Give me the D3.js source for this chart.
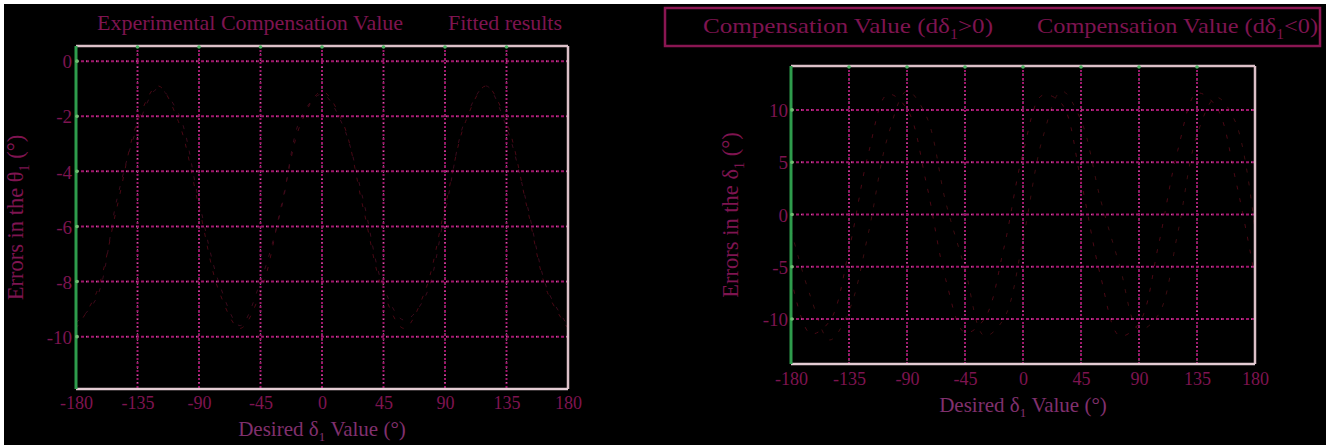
<!DOCTYPE html>
<html>
<head>
<meta charset="utf-8">
<script src="https://cdn.jsdelivr.net/npm/d3@7/dist/d3.min.js"></script>
<style>
  body { margin: 0; background: #fff; }
  svg { display: block; }
</style>
</head>
<body>
<div id="chart"></div>
<script>
// angles sampled along the desired delta_1 axis
var angles = [-180, -165, -150, -135, -120, -105, -90, -75, -60, -45, -30, -15, 0,
              15, 30, 45, 60, 75, 90, 105, 120, 135, 150, 165, 180];
var xTicks = [-180, -135, -90, -45, 0, 45, 90, 135, 180];

// left panel: errors in theta_1
var leftExperimental = [-9.5, -8.6, -5.0, -2.4, -1.0, -1.9, -5.1, -8.1, -9.6, -8.0, -5.4, -2.0, -1.2,
                        -2.3, -5.0, -8.2, -9.4, -8.6, -5.5, -2.1, -0.9, -2.4, -5.2, -8.3, -9.6];
var leftFitted = [-9.7, -8.4, -5.3, -2.2, -0.9, -2.2, -5.3, -8.4, -9.7, -8.4, -5.3, -2.2, -1.1,
                  -2.2, -5.3, -8.4, -9.7, -8.4, -5.3, -2.2, -0.9, -2.2, -5.3, -8.4, -9.7];
var leftYTicks = [0, -2, -4, -6, -8, -10];

// right panel: errors in delta_1
var rightPositive = [-6.0, -11.4, -10.2, -3.4, 5.8, 11.5, 10.1, 3.0, -6.2, -11.3, -10.0, -3.3, 5.9,
                     11.4, 10.6, 3.2, -5.8, -11.6, -10.4, -3.0, 6.1, 11.6, 10.3, 3.3, -6.0];
var rightNegative = [-1.5, -7.8, -12.0, -9.2, -1.8, 7.4, 11.8, 9.4, 1.2, -5.2, -11.6, -10.0, -2.4,
                     7.2, 11.8, 9.0, 1.5, -4.9, -11.0, -9.6, -1.8, 7.6, 11.2, 8.8, -1.5];
var rightYTicks = [10, 5, 0, -5, -10];

var width = 1326, height = 445;
var svg = d3.select("#chart").append("svg")
    .attr("width", width)
    .attr("height", height);

// black picture area, shifted a little like the original scan
svg.append("rect").attr("x", 4).attr("y", 4)
    .attr("width", width - 4).attr("height", height - 4)
    .attr("fill", "#000");

var serif = "'Liberation Serif', 'DejaVu Serif', serif";
var textColor = "#7e1450";
var gridColor = "#a0146c";

function drawPanel(p) {
    var x = d3.scaleLinear().domain([-180, 180]).range([p.left, p.right]);
    var y = d3.scaleLinear().domain(p.yDomain).range([p.bottom, p.top]);
    var g = svg.append("g");

    // faint data curves (barely visible in the original)
    var line = d3.line()
        .x(function (d, i) { return x(angles[i]); })
        .y(function (d) { return y(d); })
        .curve(d3.curveCatmullRom);
    p.series.forEach(function (s) {
        g.append("path").datum(s.values)
            .attr("d", line)
            .attr("fill", "none")
            .attr("stroke", s.color)
            .attr("stroke-width", 1)
            .attr("stroke-dasharray", "4,9");
    });

    // dotted grid
    var gx = g.append("g");
    xTicks.slice(1, -1).forEach(function (t) {
        gx.append("line").attr("x1", x(t)).attr("x2", x(t)).attr("y1", p.top).attr("y2", p.bottom)
            .attr("stroke", gridColor).attr("stroke-width", 2).attr("stroke-dasharray", "2,2");
        gx.append("line").attr("x1", x(t)).attr("x2", x(t)).attr("y1", p.top).attr("y2", p.bottom)
            .attr("stroke", "#d8b0c8").attr("stroke-width", 1.2).attr("stroke-dasharray", "1,6")
            .attr("opacity", 0.6);
    });
    p.yTicks.forEach(function (t) {
        gx.append("line").attr("x1", p.left).attr("x2", p.right).attr("y1", y(t)).attr("y2", y(t))
            .attr("stroke", gridColor).attr("stroke-width", 2).attr("stroke-dasharray", "3,2");
        gx.append("line").attr("x1", p.left).attr("x2", p.right).attr("y1", y(t)).attr("y2", y(t))
            .attr("stroke", "#d8b0c8").attr("stroke-width", 1.2).attr("stroke-dasharray", "1,9")
            .attr("opacity", 0.55);
    });

    // frame: top + right light, left green, bottom light
    g.append("line").attr("x1", p.left).attr("x2", p.right).attr("y1", p.top).attr("y2", p.top)
        .attr("stroke", "#dcc0c8").attr("stroke-width", 2.5);
    g.append("line").attr("x1", p.right).attr("x2", p.right).attr("y1", p.top).attr("y2", p.bottom)
        .attr("stroke", "#dcc0c8").attr("stroke-width", 2.5);
    g.append("line").attr("x1", p.left).attr("x2", p.right).attr("y1", p.bottom).attr("y2", p.bottom)
        .attr("stroke", "#e4ccd4").attr("stroke-width", 2.5);
    g.append("line").attr("x1", p.left).attr("x2", p.left).attr("y1", p.top).attr("y2", p.bottom)
        .attr("stroke", "#2e9c4c").attr("stroke-width", 3);

    // axes for labels
    var xAxis = d3.axisBottom(x).tickValues(xTicks).tickSize(0).tickPadding(0)
        .tickFormat(function (d) { return String(d); });
    var ax = g.append("g").attr("transform", "translate(0," + p.xLabelY + ")").call(xAxis);
    ax.select(".domain").remove();
    ax.selectAll("text").attr("dy", 0).attr("y", 0)
        .attr("fill", textColor).attr("font-family", serif).attr("font-size", 18);

    var yAxis = d3.axisLeft(y).tickValues(p.yTicks).tickSize(0).tickPadding(0)
        .tickFormat(function (d) { return String(d); });
    var ay = g.append("g").attr("transform", "translate(" + p.yLabelX + ",0)").call(yAxis);
    ay.select(".domain").remove();
    ay.selectAll("text").attr("x", 0).attr("dy", "0.35em")
        .attr("fill", textColor).attr("font-family", serif).attr("font-size", 19);

    // small green markers on top edge and left axis at grid positions
    xTicks.slice(1, -1).forEach(function (t) {
        g.append("circle").attr("cx", x(t)).attr("cy", p.top + 1).attr("r", 1.8).attr("fill", "#4cb060");
    });
    p.yTicks.forEach(function (t) {
        g.append("circle").attr("cx", p.left + 1).attr("cy", y(t)).attr("r", 1.8).attr("fill", "#6cc070");
    });

    // axis titles
    var xt = g.append("text").attr("x", (p.left + p.right) / 2).attr("y", p.xTitleY)
        .attr("text-anchor", "middle").attr("font-family", serif).attr("font-size", 21)
        .attr("fill", "#80306e");
    xt.append("tspan").text("Desired \u03b4");
    xt.append("tspan").attr("font-size", 13).attr("dy", 5).text("1");
    xt.append("tspan").attr("dy", -5).text(" Value (\u00b0)");

    var yt = g.append("text")
        .attr("transform", "translate(" + p.yTitleX + "," + ((p.top + p.bottom) / 2) + ") rotate(-90)")
        .attr("text-anchor", "middle").attr("font-family", serif).attr("font-size", 22.5)
        .attr("fill", textColor);
    yt.append("tspan").text("Errors in the " + p.symbol);
    yt.append("tspan").attr("font-size", 14).attr("dy", 6).text("1");
    yt.append("tspan").attr("dy", -6).text(" (\u00b0)");
}

drawPanel({
    left: 76, right: 568, top: 46, bottom: 389,
    yDomain: [-11.9, 0.55], yTicks: leftYTicks,
    xLabelY: 409, yLabelX: 72, xTitleY: 436, yTitleX: 23, symbol: "\u03b8",
    series: [
        { values: leftFitted, color: "#4a0814" },
        { values: leftExperimental, color: "#3a0a1c" }
    ]
});

drawPanel({
    left: 791, right: 1255, top: 66, bottom: 364,
    yDomain: [-14.3, 14.2], yTicks: rightYTicks,
    xLabelY: 385, yLabelX: 788, xTitleY: 412, yTitleX: 738, symbol: "\u03b4",
    series: [
        { values: rightPositive, color: "#4a0814" },
        { values: rightNegative, color: "#3c0c10" }
    ]
});

// left legend (no box)
svg.append("text").attr("x", 97).attr("y", 30)
    .attr("font-family", serif).attr("font-size", 22).attr("fill", textColor)
    .attr("textLength", 306).attr("lengthAdjust", "spacingAndGlyphs")
    .text("Experimental Compensation Value");
svg.append("text").attr("x", 448).attr("y", 30)
    .attr("font-family", serif).attr("font-size", 22).attr("fill", textColor)
    .attr("textLength", 114).attr("lengthAdjust", "spacingAndGlyphs")
    .text("Fitted results");

// right legend in a box
svg.append("rect").attr("x", 665).attr("y", 8).attr("width", 655).attr("height", 38)
    .attr("fill", "none").attr("stroke", "#8a1652").attr("stroke-width", 2.5);

function legendEntry(xPos, len, sign) {
    var t = svg.append("text").attr("x", xPos).attr("y", 33)
        .attr("font-family", serif).attr("font-size", 22).attr("fill", textColor)
        .attr("textLength", len).attr("lengthAdjust", "spacingAndGlyphs");
    t.append("tspan").text("Compensation Value (d\u03b4");
    t.append("tspan").attr("font-size", 14).attr("dy", 6).text("1");
    t.append("tspan").attr("dy", -6).text(sign + "0)");
}
legendEntry(703, 290, ">");
legendEntry(1037, 281, "<");
</script>
</body>
</html>
